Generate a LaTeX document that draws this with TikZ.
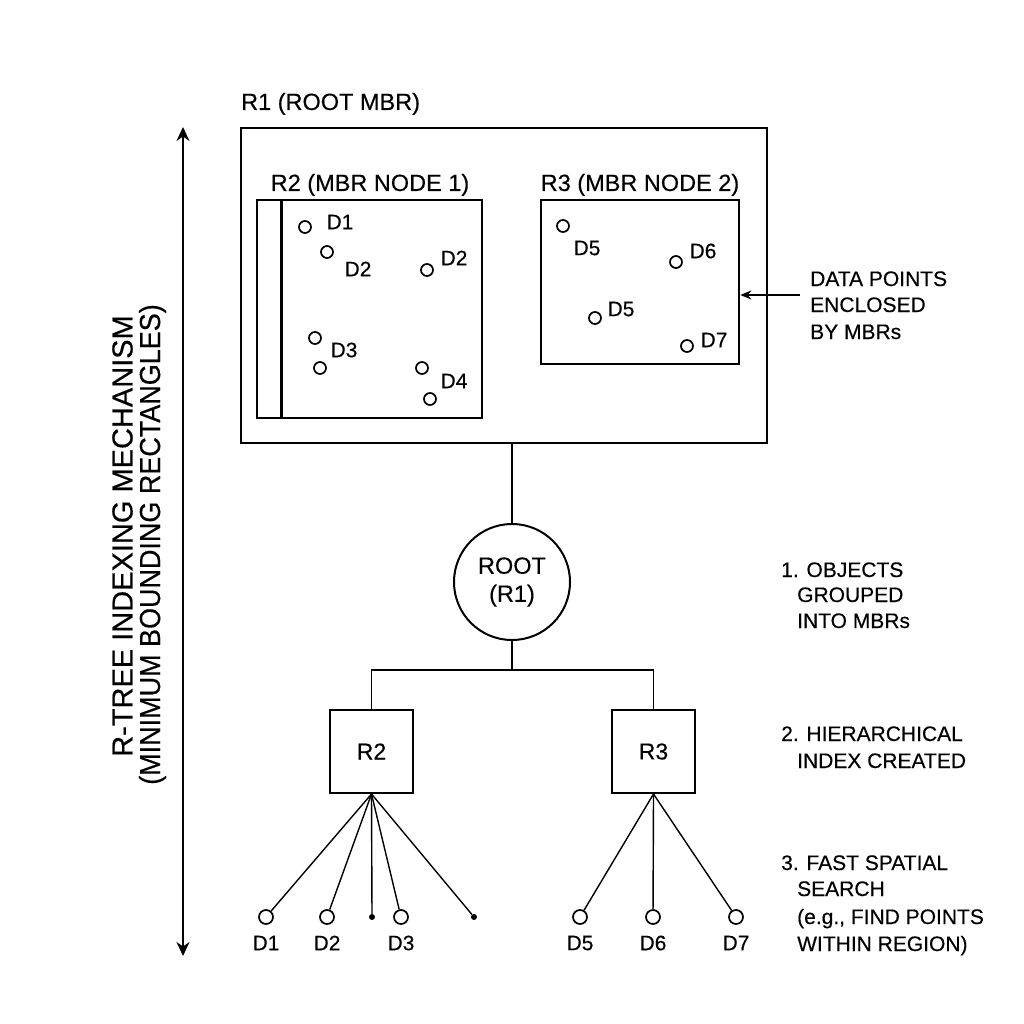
\documentclass[tikz,border=0pt]{standalone}
\usepackage{fontspec}
\setmainfont{Liberation Sans}[FakeBold=0.35]
\newfontfamily\condfont[FakeStretch=0.93,FakeBold=0.35]{Liberation Sans}
\usetikzlibrary{arrows.meta}
\tikzset{
  mbr/.style={draw, line width=2.6pt, inner sep=0pt},
  dpt/.style={circle, draw, line width=1.7pt, minimum size=12pt, inner sep=0pt},
  leaf/.style={circle, draw, line width=1.7pt, minimum size=14pt, inner sep=0pt},
  dot/.style={circle, fill, minimum size=6pt, inner sep=0pt},
  dlbl/.style={font=\fontsize{21}{24}\selectfont, inner sep=0pt},
  head/.style={font=\fontsize{23.5}{26}\selectfont, inner sep=0pt},
  steptxt/.style={font=\fontsize{21}{24}\selectfont, inner sep=0pt, anchor=base west},
  conn/.style={line width=1.4pt},
  side/.style={font=\fontsize{29}{32}\selectfont, inner sep=0pt, rotate=90}
}
\begin{document}
\begin{tikzpicture}[x=1pt,y=-1pt]
\useasboundingbox (0,0) rectangle (1024,1024);
% top MBR boxes
\node[mbr, minimum width=526pt, minimum height=315pt] (R1) at (504,285.5) {};
\node[head, anchor=base west] (R1l) at (241,110) {R1 (ROOT MBR)};
\node[mbr, minimum width=225pt, minimum height=218pt] (R2) at (369.5,309) {};
\draw[line width=2.6pt] ([xshift=26pt]R2.north west) -- ([xshift=26pt]R2.south west);
\node[head, anchor=base] (R2l) at (370,191) {R2 (MBR NODE 1)};
\node[mbr, minimum width=198pt, minimum height=164pt] (R3) at (640,282) {};
\node[head, anchor=base] (R3l) at (640,191) {R3 (MBR NODE 2)};
% points in R2
\node[dpt] (a1) at (305,227) {}; \node[dlbl] (a1l) at (340,222) {D1};
\node[dpt] (a2) at (327,252) {}; \node[dlbl] (a2l) at (358,269) {D2};
\node[dpt] (a3) at (427,270) {}; \node[dlbl] (a3l) at (454,258) {D2};
\node[dpt] (a4) at (315,338) {};
\node[dpt] (a5) at (320,368) {}; \node[dlbl] (a5l) at (344,350) {D3};
\node[dpt] (a6) at (422,368) {};
\node[dpt] (a7) at (430,399) {}; \node[dlbl] (a7l) at (454,381) {D4};
% points in R3
\node[dpt] (b1) at (563,226) {}; \node[dlbl] (b1l) at (587,248) {D5};
\node[dpt] (b2) at (676,262) {}; \node[dlbl] (b2l) at (703,251) {D6};
\node[dpt] (b3) at (595,318) {}; \node[dlbl] (b3l) at (621,309) {D5};
\node[dpt] (b4) at (687,346) {}; \node[dlbl] (b4l) at (714,340) {D7};
% annotation arrow
\coordinate (ann) at (800,295);
\draw[conn, -{Stealth[length=11pt,width=9pt]}] (ann) -- (ann -| R3.east);
\node[steptxt] (t1) at (810,286) {DATA POINTS};
\node[steptxt] (t2) at (810,312) {ENCLOSED};
\node[steptxt] (t3) at (810,339) {BY MBRs};
% tree
\node[circle, draw, line width=2pt, minimum size=116pt, inner sep=0pt, align=center,
      font=\fontsize{23.5}{28}\selectfont] (root) at (512,582) {ROOT\\(R1)};
\draw[conn, line width=1.8pt] (root.north |- R1.south) -- (root.north);
\node[mbr, line width=2pt, minimum width=83pt, minimum height=83pt, font=\fontsize{23}{26}\selectfont] (n2) at (371.5,751.5) {R2};
\node[mbr, line width=2pt, minimum width=83pt, minimum height=83pt, font=\fontsize{23}{26}\selectfont] (n3) at (653.5,751.5) {R3};
\coordinate (j) at (512,670);
\draw[conn, line width=1.8pt] (root.south) -- (j);
\draw[conn, line width=1.8pt] (n2.north) -- (n2.north |- j) -- (n3.north |- j) -- (n3.north);
% leaves
\node[leaf] (l1) at (266,917) {}; \node[dlbl] (l1l) at (266,943) {D1};
\node[leaf] (l2) at (327,917) {}; \node[dlbl] (l2l) at (327,943) {D2};
\node[dot]  (l3) at (372,917) {};
\node[leaf] (l4) at (401,917) {}; \node[dlbl] (l4l) at (401,943) {D3};
\node[dot]  (l5) at (474,917) {};
\node[leaf] (m1) at (580,917) {}; \node[dlbl] (m1l) at (580,943) {D5};
\node[leaf] (m2) at (653,917) {}; \node[dlbl] (m2l) at (653,943) {D6};
\node[leaf] (m3) at (736,917) {}; \node[dlbl] (m3l) at (736,943) {D7};
\foreach \l in {l1,l2,l3,l4,l5} \draw[conn] (n2.south) -- (\l);
\foreach \l in {m1,m2,m3} \draw[conn] (n3.south) -- (\l);
% steps
\node[steptxt] (s1a) at (781,577) {1. OBJECTS};
\node[steptxt] (s1b) at (797,602) {GROUPED};
\node[steptxt] (s1c) at (797,628) {INTO MBRs};
\node[steptxt] (s2a) at (781,741) {2. HIERARCHICAL};
\node[steptxt] (s2b) at (797,768) {INDEX CREATED};
\node[steptxt] (s3a) at (781,870) {3. FAST SPATIAL};
\node[steptxt] (s3b) at (797,896) {SEARCH};
\node[steptxt] (s3c) at (797,924) {(e.g., FIND POINTS};
\node[steptxt] (s3d) at (797,951) {WITHIN REGION)};
% left axis
\coordinate (axt) at (183,127);
\coordinate (axb) at (183,956);
\draw[line width=2pt, {Stealth[length=14pt,width=13pt]}-{Stealth[length=14pt,width=13pt]}] (axt) -- (axb);
\node[side] (ax1) at (122.5,536) {R-TREE INDEXING MECHANISM};
\node[side, font=\condfont\fontsize{29}{32}\selectfont] (ax2) at (152.5,544.5) {(MINIMUM BOUNDING RECTANGLES)};
\end{tikzpicture}
\end{document}
